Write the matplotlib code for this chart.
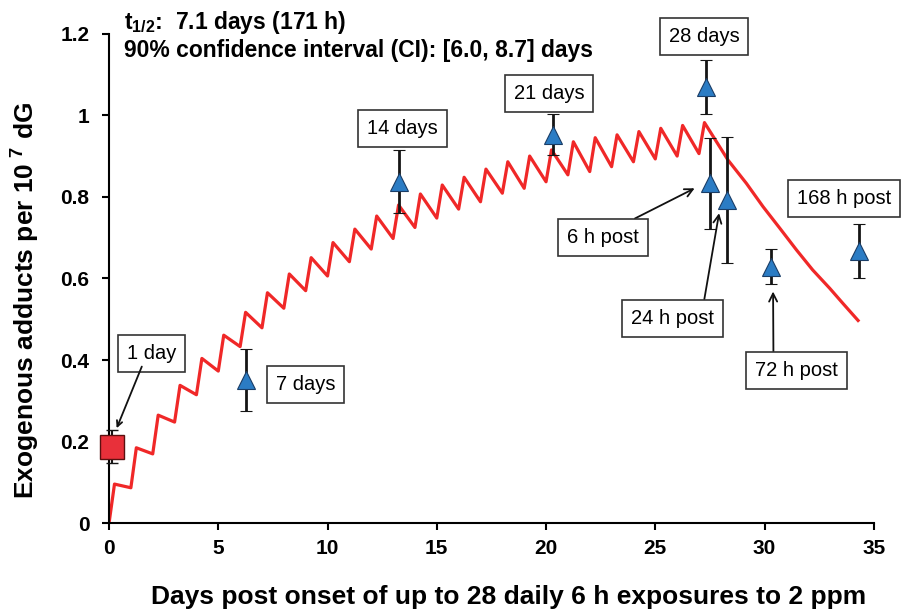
import matplotlib
matplotlib.use('Agg')
import matplotlib.pyplot as plt
import numpy as np

plt.rcParams['font.family'] = ['Liberation Sans', 'DejaVu Sans']
plt.rcParams['mathtext.fontset'] = 'custom'
plt.rcParams['mathtext.rm'] = 'Liberation Sans'
plt.rcParams['mathtext.bf'] = 'Liberation Sans:bold'

# model curve: peaks after each 6 h exposure, troughs before the next one
exposure_day = np.arange(28)
peak_vals = [0.096, 0.185, 0.265, 0.338, 0.404, 0.461, 0.517, 0.565, 0.611, 0.651,
             0.688, 0.721, 0.753, 0.780, 0.807, 0.829, 0.848, 0.868, 0.886, 0.900,
             0.915, 0.935, 0.945, 0.952, 0.960, 0.968, 0.975, 0.982]
trough_vals = [0.0, 0.087, 0.170, 0.248, 0.315, 0.373, 0.433, 0.479, 0.527, 0.570,
               0.606, 0.641, 0.672, 0.698, 0.725, 0.748, 0.770, 0.788, 0.809, 0.821,
               0.837, 0.854, 0.862, 0.874, 0.886, 0.893, 0.900, 0.906]
tail_x = [28.33, 29.17, 29.93, 30.7, 31.46, 32.2, 32.98, 33.6, 34.28]
tail_y = [0.890, 0.833, 0.776, 0.723, 0.670, 0.621, 0.576, 0.538, 0.497]

# measurements
sq_x, sq_y, sq_err = [0.15], [0.188], [0.041]
tri_x = [6.27, 13.28, 20.33, 27.3, 27.52, 28.29, 30.3, 34.3]
tri_y = [0.35, 0.837, 0.952, 1.069, 0.833, 0.792, 0.629, 0.667]
tri_err = [0.076, 0.077, 0.05, 0.066, 0.112, 0.154, 0.042, 0.066]

curve_x, curve_y = [], []
for d, t, p in zip(exposure_day, trough_vals, peak_vals):
    curve_x += [d, d + 0.25]
    curve_y += [t, p]
curve_x += tail_x
curve_y += tail_y

fig = plt.figure(figsize=(9.04, 6.12), dpi=100)
ax = fig.add_axes([0.1206, 0.145, 0.846, 0.80])

ax.plot(curve_x, curve_y, color='#f02828', lw=2.3, zorder=2)
ax.errorbar(tri_x, tri_y, yerr=tri_err, fmt='^', ms=13, mfc='#2b7cc4', mec='#1a3d66',
            mew=0.8, ecolor='#151515', elinewidth=2, capsize=4, capthick=2, zorder=3)
ax.errorbar(sq_x, sq_y, yerr=sq_err, fmt='s', ms=17, mfc='#e8303a', mec='#5a1010',
            mew=1, ecolor='#151515', elinewidth=1.5, capsize=4, capthick=1.5, zorder=4,
            clip_on=False)

ax.set_xlim(0, 35)
ax.set_ylim(0, 1.2)
ax.set_xticks([0, 5, 10, 15, 20, 25, 30, 35])
ax.set_yticks([0, 0.2, 0.4, 0.6, 0.8, 1.0, 1.2])
ax.set_yticklabels(['0', '0.2', '0.4', '0.6', '0.8', '1', '1.2'])
for s in ['top', 'right']:
    ax.spines[s].set_visible(False)
for s in ['left', 'bottom']:
    ax.spines[s].set_linewidth(1.5)
ax.tick_params(direction='out', length=5, width=1.5, labelsize=15)
ax.tick_params(axis='y', pad=9)
ax.tick_params(axis='x', pad=6)
for lab in ax.get_xticklabels() + ax.get_yticklabels():
    lab.set_fontweight('bold')

ax.set_xlabel('Days post onset of up to 28 daily 6 h exposures to 2 ppm',
              fontsize=19, fontweight='bold')
ax.set_ylabel(r'Exogenous adducts per 10$^{\mathbf{\ 7}}$ dG', fontsize=19,
              fontweight='bold')
ax.xaxis.set_label_coords(0.522, -0.126)
ax.yaxis.set_label_coords(-0.089, 0.456)

ax.text(0.7, 1.228, r'$\mathbf{t_{1/2}}$:  7.1 days (171 h)', fontsize=16.5,
        fontweight='bold', va='center')
ax.text(0.7, 1.158, '90% confidence interval (CI): [6.0, 8.7] days', fontsize=16.5,
        fontweight='bold', va='center')

box = dict(boxstyle='square,pad=0.45', fc='white', ec='#333333', lw=1.2)
arrow = dict(arrowstyle='->', color='#111111', lw=1.3, shrinkA=0, shrinkB=0)

labels = [('1 day', 1.95, 0.417), ('7 days', 9.0, 0.340), ('14 days', 13.43, 0.967),
          ('21 days', 20.14, 1.053), ('28 days', 27.23, 1.194),
          ('168 h post', 33.64, 0.795)]
for txt, x, y in labels:
    ax.text(x, y, txt, fontsize=14.5, ha='center', va='center', bbox=box, clip_on=False)

ax.annotate('', xy=(0.35, 0.233), xytext=(1.5, 0.384), arrowprops=arrow)
ax.annotate('6 h post', xy=(26.8, 0.821), xytext=(22.6, 0.700), fontsize=14.5,
            ha='center', va='center', bbox=box,
            arrowprops=dict(arrow, relpos=(0.68, 1.0)))
ax.annotate('24 h post', xy=(27.92, 0.760), xytext=(25.8, 0.502), fontsize=14.5,
            ha='center', va='center', bbox=box,
            arrowprops=dict(arrow, relpos=(0.86, 1.0)))
ax.annotate('72 h post', xy=(30.39, 0.568), xytext=(31.47, 0.374), fontsize=14.5,
            ha='center', va='center', bbox=box,
            arrowprops=dict(arrow, relpos=(0.22, 1.0)))

fig.savefig('out.png', dpi=100)
